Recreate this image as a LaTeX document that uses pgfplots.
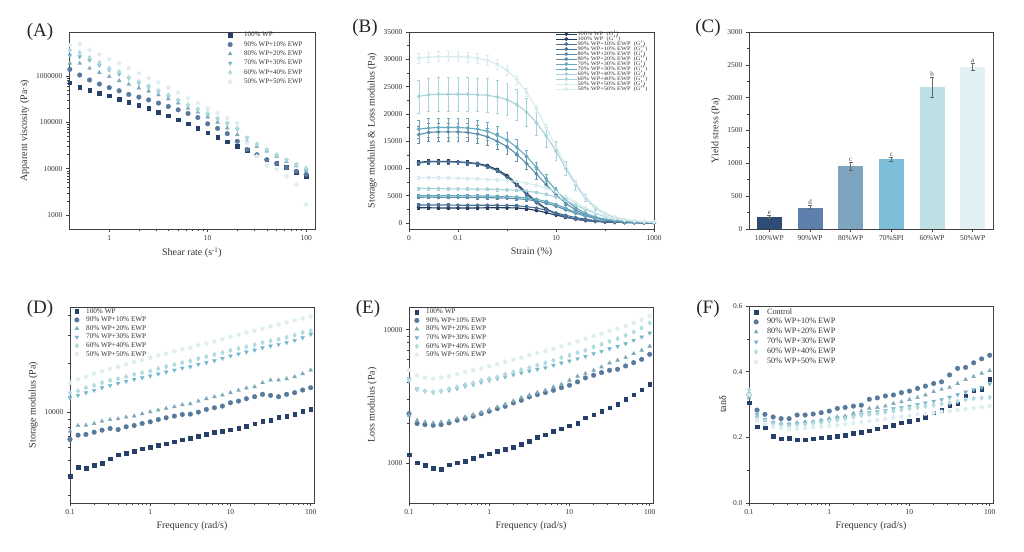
\documentclass[border=0pt]{standalone}
\usepackage{pgfplots}
\pgfplotsset{compat=1.18}
\usepackage{pgfplotstable}
\usepackage{fontspec}
\setmainfont{Liberation Serif}
\newfontfamily\legB[FakeStretch=1.2]{Liberation Serif}

\definecolor{c1}{HTML}{27406A}
\definecolor{c2}{HTML}{56799C}
\definecolor{c3}{HTML}{7FA8B8}
\definecolor{c4}{HTML}{74B6CB}
\definecolor{c5}{HTML}{B0DBE0}
\definecolor{c6}{HTML}{DDEEF1}
\definecolor{b1}{HTML}{2F4C77}
\definecolor{b2}{HTML}{5E80AD}
\definecolor{b3}{HTML}{7EA5BF}
\definecolor{b4}{HTML}{7DBFD8}
\definecolor{b5}{HTML}{BDE0E4}
\definecolor{b6}{HTML}{E1F1F3}
\definecolor{l1}{HTML}{243A5E}
\definecolor{l2}{HTML}{4B7095}
\definecolor{l3}{HTML}{5C8EAA}
\definecolor{l4}{HTML}{68A9C0}
\definecolor{l5}{HTML}{A8D2DA}
\definecolor{l6}{HTML}{D6EBEE}

\pgfplotsset{
  myax/.style={scale only axis, anchor=south west,
    axis line style={black!75,line width=0.6pt},
    tick style={black!75,line width=0.5pt},
    tick align=outside, xtick pos=lower, ytick pos=lower,
    major tick length=3pt, minor tick length=1.8pt,
    tick label style={font=\fontsize{7.5}{8}\selectfont, text=black!80},
    label style={font=\fontsize{10}{11}\selectfont, text=black!80},
    /pgf/number format/assume math mode=true,
    /pgf/number format/1000 sep={},
    legend cell align=left},
  s1/.style={only marks, mark=square*, mark size=1.8pt, color=c1},
  s2/.style={only marks, mark=*, mark size=2.3pt, color=c2},
  s3/.style={only marks, mark=triangle*, mark size=2.2pt, color=c3},
  s4/.style={only marks, mark=triangle*, mark size=2.2pt, mark options={rotate=180}, color=c4},
  s5/.style={only marks, mark=diamond*, mark size=2.4pt, color=c5},
  s6/.style={only marks, mark=pentagon*, mark size=2.1pt, color=c6},
  mimg/.style={legend image code/.code={\draw[mark repeat=2,mark phase=2,##1] plot coordinates {(0pt,0pt) (4pt,0pt) (8pt,0pt)}; \path[draw=none,fill=none] (0pt,0pt) -- (#1,0pt);}},
  mlegend/.style={
    legend style={draw=none, fill=none, anchor=north west, inner sep=0pt,
      font=\fontsize{#1}{#1}\selectfont, text=black!80,
      nodes={inner sep=0.5pt, text height=0.7*#1 pt, text depth=0.2*#1 pt}}},
  bl/.style={color=#1, line width=1.1pt, mark=*, mark size=1.3pt},
  cbar/.style={ybar, bar width=25pt, bar shift=0pt, draw=none, fill=#1,
    error bars/.cd, y dir=both, y explicit,
    error bar style={black!60, line width=0.4pt},
    error mark options={rotate=90, mark size=2pt, black!60}},
}

\pgfplotstableread{
x a b c d e g
0.398 7.2e5 1.39e6 1.87e6 2.8e6 3.6e6 4.6e6
0.501 5.7e5 1.05e6 1.87e6 2.6e6 3.2e6 4.8e6
0.631 5.0e5 8.2e5 1.46e6 2.2e6 2.5e6 3.6e6
0.794 4.24e5 6.7e5 1.18e6 1.72e6 1.93e6 2.9e6
1 3.72e5 5.6e5 9.7e5 1.35e6 1.46e6 2.3e6
1.26 3.2e5 4.8e5 7.9e5 1.1e6 1.24e6 1.87e6
1.58 2.76e5 4.0e5 6.6e5 8.9e5 9.3e5 1.46e6
2 2.34e5 3.5e5 5.5e5 7.0e5 7.5e5 1.14e6
2.51 1.99e5 3.05e5 4.7e5 5.7e5 6.1e5 8.9e5
3.16 1.66e5 2.6e5 3.9e5 4.6e5 4.85e5 7.3e5
3.98 1.38e5 2.2e5 3.2e5 3.6e5 3.9e5 5.6e5
5.01 1.13e5 1.86e5 2.6e5 2.9e5 3.05e5 4.4e5
6.31 9.3e4 1.55e5 2.0e5 2.3e5 2.4e5 3.3e5
7.94 7.5e4 1.27e5 1.66e5 1.86e5 1.93e5 2.6e5
10 6.0e4 9.3e4 1.3e5 1.45e5 1.58e5 2.0e5
12.6 4.8e4 7.4e4 1.0e5 1.17e5 1.23e5 1.58e5
15.8 3.8e4 5.7e4 7.5e4 9.3e4 9.6e4 1.23e5
20 3.1e4 3.9e4 5.4e4 7.1e4 7.5e4 9.6e4
25.1 2.5e4 2.6e4 3.9e4 4.6e4 4.6e4 3.6e4
31.6 2.0e4 2.0e4 3.0e4 3.3e4 3.4e4 1.85e4
39.8 1.56e4 1.56e4 2.4e4 2.5e4 2.6e4 1.18e4
50.1 1.33e4 1.3e4 1.85e4 1.94e4 2.0e4 9.8e3
63.1 1.07e4 1.05e4 1.43e4 1.5e4 1.56e4 6.8e3
79.4 8.5e3 8.8e3 1.15e4 1.2e4 1.24e4 4.5e3
100 6.8e3 7.5e3 9.3e3 9.5e3 1.03e4 1.7e3
}\tA

\pgfplotstableread{
s a1 a2 b1 b2 c1 c2 d1 d2 e1 e2 f1 f2
0.0158 11100 2800 11000 3300 16200 4700 17200 5000 23200 6300 30200 8300
0.0251 11300 2800 11200 3300 16600 4750 17400 5000 23500 6300 30400 8300
0.0398 11300 2750 11200 3300 16700 4700 17500 5000 23600 6300 30500 8300
0.0631 11300 2750 11200 3300 16700 4700 17500 5000 23600 6250 30500 8250
0.1 11200 2750 11150 3250 16700 4700 17500 5000 23600 6250 30500 8200
0.158 11100 2750 11000 3250 16600 4700 17400 5000 23600 6250 30400 8150
0.251 10900 2750 10800 3250 16300 4650 17200 4950 23500 6200 30200 8100
0.398 10500 2800 10300 3250 15800 4650 16800 4950 23400 6200 29800 8000
0.631 9800 2800 9600 3250 15000 4600 16100 4900 23100 6150 29100 7900
1 8700 2800 8400 3200 14000 4550 15200 4850 22600 6100 28000 7800
1.58 7200 2750 6900 3150 12600 4450 13900 4750 21700 6000 26300 7600
2.51 5500 2600 5200 3000 10900 4300 12200 4600 20300 5850 24000 7300
3.98 3900 2300 3700 2750 9000 4050 10200 4350 18400 5600 21000 6900
6.31 2600 1900 2500 2350 7000 3650 8100 3950 16000 5250 17500 6400
10 1700 1450 1650 1850 5200 3100 6000 3400 13200 4750 14000 5700
15.8 1100 1050 1100 1400 3600 2400 4200 2700 10000 4100 10500 4800
25.1 700 750 700 1000 2400 1800 2800 2000 7000 3300 7300 3800
39.8 450 500 450 700 1500 1250 1800 1400 4600 2500 4800 2800
63.1 300 350 300 450 950 850 1100 950 2800 1750 3000 1900
100 200 230 200 300 600 550 700 620 1700 1150 1800 1250
158 130 150 130 200 380 350 450 400 1000 750 1100 800
251 90 100 90 130 250 230 290 260 600 480 650 520
398 60 70 60 90 160 150 190 170 380 310 400 340
631 40 50 40 60 110 100 120 110 250 200 260 220
1000 30 35 30 40 70 70 80 80 160 140 170 150
}\tB

\pgfplotstableread{
f a b c d e g
0.1 3960 6720 7570 12230 13150 15180
0.126 4530 7150 8210 12650 13470 15930
0.158 4430 7220 8250 13150 14130 16540
0.2 4660 7460 8450 13600 14610 17270
0.251 4800 7680 8740 14130 15180 17860
0.316 5110 7870 8950 14610 15700 18560
0.398 5410 7750 9040 15040 16070 19110
0.501 5540 8060 9260 15480 16540 19760
0.631 5680 8210 9400 15930 17120 20430
0.794 5870 8450 9720 16320 17530 21010
1 6040 8660 10000 16720 17960 21760
1.26 6190 8950 10240 17210 18560 22400
1.58 6340 9170 10490 17700 19110 23050
2 6490 9400 10750 18200 19670 23830
2.51 6680 9620 11060 18730 20240 24510
3.16 6840 9670 11220 19100 20730 25090
3.98 7040 9950 11660 19760 21430 25970
5.01 7220 10340 12060 20240 22060 26700
6.31 7430 10590 12410 20830 22720 27470
7.94 7570 10850 12710 21540 23370 28300
10 7750 11380 13150 22270 24170 29280
12.6 7910 11660 13600 22920 24770 30280
15.8 8140 12060 14060 23580 25390 31180
20 8410 12410 14330 24260 26120 31930
25.1 8740 12840 15180 25090 27000 33020
31.6 8870 12650 15770 25700 27640 33990
39.8 9220 12410 15770 26320 28300 34990
50.1 9350 12840 16070 26960 29140 36010
63.1 9670 13150 16540 27870 30000 37060
79.4 10100 13660 17270 28950 31180 38150
100 10340 14130 18200 30420 31930 39260
}\tD

\pgfplotstableread{
f a b c d e g
0.1 1155 2344 2280 4290 4169 4955
0.126 1000 1972 2089 3610 3548 4550
0.158 962 1939 2030 3447 3467 4365
0.2 908 1916 1995 3373 3407 4290
0.251 898 1939 2030 3447 3467 4365
0.316 970 1995 2065 3508 3610 4467
0.398 1000 2089 2150 3610 3715 4621
0.501 1030 2150 2213 3758 3870 4808
0.631 1079 2239 2306 3870 3981 4955
0.794 1130 2344 2399 4027 4169 5105
1 1175 2443 2512 4169 4290 5309
1.26 1230 2553 2630 4290 4416 5508
1.58 1267 2660 2754 4416 4621 5733
2 1318 2818 2917 4594 4808 5957
2.51 1380 2951 3090 4732 5012 6166
3.16 1462 3126 3221 4898 5188 6427
3.98 1567 3258 3373 5044 5403 6683
5.01 1633 3373 3508 5188 5623 6918
6.31 1729 3508 3715 5403 5888 7200
7.94 1810 3673 3890 5623 6166 7499
10 1896 3828 4169 5821 6427 7852
12.6 1995 4055 4467 6061 6730 8175
15.8 2177 4345 4677 6310 6998 8560
20 2306 4550 4955 6607 7413 8964
25.1 2443 4764 5248 6879 7762 9333
31.6 2588 4955 5623 7200 8175 9772
39.8 2754 5044 5888 7499 8560 10174
50.1 3005 5340 6166 7852 9066 10654
63.1 3258 5655 6607 8318 9603 11220
79.4 3548 5988 6998 8810 10290 11885
100 3890 6531 7499 9441 11220 12589
}\tE

\pgfplotstableread{
f a b c d e g
0.1 0.305 0.33 0.32 0.33 0.345 0.33
0.126 0.232 0.283 0.266 0.27 0.26 0.25
0.158 0.229 0.27 0.252 0.255 0.25 0.24
0.2 0.204 0.262 0.244 0.245 0.24 0.232
0.251 0.196 0.257 0.242 0.24 0.237 0.228
0.316 0.198 0.257 0.24 0.24 0.235 0.225
0.398 0.193 0.268 0.244 0.242 0.238 0.226
0.501 0.193 0.268 0.247 0.245 0.24 0.228
0.631 0.196 0.271 0.247 0.247 0.243 0.23
0.794 0.199 0.275 0.252 0.25 0.245 0.232
1 0.201 0.28 0.257 0.254 0.25 0.235
1.26 0.203 0.288 0.262 0.258 0.253 0.237
1.58 0.207 0.291 0.264 0.262 0.257 0.24
2 0.212 0.295 0.273 0.265 0.262 0.243
2.51 0.215 0.298 0.28 0.27 0.267 0.247
3.16 0.22 0.316 0.288 0.275 0.27 0.25
3.98 0.226 0.32 0.291 0.278 0.273 0.253
5.01 0.232 0.326 0.295 0.282 0.277 0.256
6.31 0.237 0.329 0.303 0.287 0.28 0.26
7.94 0.244 0.336 0.308 0.29 0.284 0.263
10 0.25 0.341 0.315 0.295 0.288 0.266
12.6 0.254 0.349 0.321 0.3 0.291 0.27
15.8 0.262 0.356 0.329 0.305 0.295 0.272
20 0.275 0.364 0.339 0.31 0.298 0.275
25.1 0.283 0.369 0.346 0.315 0.302 0.278
31.6 0.296 0.39 0.352 0.322 0.305 0.28
39.8 0.303 0.41 0.364 0.33 0.31 0.283
50.1 0.327 0.413 0.376 0.338 0.315 0.286
63.1 0.342 0.427 0.385 0.345 0.318 0.289
79.4 0.347 0.439 0.395 0.352 0.32 0.292
100 0.377 0.45 0.403 0.363 0.322 0.295
}\tF

\begin{document}
\begin{tikzpicture}
\path (0pt,0pt) rectangle (1024pt,551pt);

% ---------------- (A)
\begin{axis}[myax, at={(69pt,322pt)}, width=246pt, height=197pt,
  xmode=log, ymode=log, xmin=0.39, xmax=123, ymin=500, ymax=8.9e6,
  xtick={1,10,100}, xticklabels={1,10,100},
  ytick={1000,10000,100000,1000000}, yticklabels={1000,10000,100000,1000000},
  xlabel={Shear rate (s\textsuperscript{-1})}, ylabel={Apparent viscosity (Pa·s)},
  mimg=17.5pt, mlegend=7, legend style={at={(0.638,1.003)}, row sep=2pt}]
\addplot[s1] table[x=x,y=a]{\tA};
\addplot[s2] table[x=x,y=b]{\tA};
\addplot[s3] table[x=x,y=c]{\tA};
\addplot[s4] table[x=x,y=d]{\tA};
\addplot[s5] table[x=x,y=e]{\tA};
\addplot[s6] table[x=x,y=g]{\tA};
\legend{100\% WP,90\% WP+10\% EWP,80\% WP+20\% EWP,70\% WP+30\% EWP,60\% WP+40\% EWP,50\% WP+50\% EWP}
\end{axis}

% ---------------- (B)
\begin{axis}[myax, at={(409pt,322pt)}, width=245pt, height=197pt,
  xmode=log, xmin=0.01, xmax=1000, ymin=-1100, ymax=35000,
  scaled y ticks=false,
  xtick={0.01,0.1,10,1000}, xticklabels={0,0.1,10,1000}, minor xtick={1,100},
  ytick={0,5000,...,35000}, minor y tick num=1,
  xlabel={Strain (\%)}, ylabel={Storage modulus \& Loss modulus (Pa)},
  legend image code/.code={\draw[mark repeat=2,mark phase=2,#1] plot coordinates {(0pt,0pt) (10.5pt,0pt) (21pt,0pt)};},
  legend style={draw=none, fill=none, anchor=north west, at={(0.596,1.003)}, inner sep=0pt,
    font=\legB\fontsize{5.3}{5.3}\selectfont, text=black!80, row sep=0pt,
    nodes={inner sep=0.2pt, text height=3.6pt, text depth=1.0pt}}]
\addplot[bl=l1, error bars/.cd, y dir=both, y fixed relative=0.03] table[x=s,y=a1]{\tB};
\addplot[bl=l1, error bars/.cd, y dir=both, y fixed relative=0.08] table[x=s,y=a2]{\tB};
\addplot[bl=l2, error bars/.cd, y dir=both, y fixed relative=0.03] table[x=s,y=b1]{\tB};
\addplot[bl=l2, error bars/.cd, y dir=both, y fixed relative=0.08] table[x=s,y=b2]{\tB};
\addplot[bl=l3, error bars/.cd, y dir=both, y fixed relative=0.1] table[x=s,y=c1]{\tB};
\addplot[bl=l3, error bars/.cd, y dir=both, y fixed relative=0.05] table[x=s,y=c2]{\tB};
\addplot[bl=l4, error bars/.cd, y dir=both, y fixed relative=0.1] table[x=s,y=d1]{\tB};
\addplot[bl=l4, error bars/.cd, y dir=both, y fixed relative=0.05] table[x=s,y=d2]{\tB};
\addplot[bl=l5, error bars/.cd, y dir=both, y fixed relative=0.13] table[x=s,y=e1]{\tB};
\addplot[bl=l5, error bars/.cd, y dir=both, y fixed relative=0.04] table[x=s,y=e2]{\tB};
\addplot[bl=l6, error bars/.cd, y dir=both, y fixed relative=0.03] table[x=s,y=f1]{\tB};
\addplot[bl=l6, error bars/.cd, y dir=both, y fixed relative=0.03] table[x=s,y=f2]{\tB};
\legend{100\% WP\hspace{0.6em}(G$'$),100\% WP\hspace{0.6em}(G$''$),90\% WP+10\% EWP\hspace{0.6em}(G$'$),90\% WP+10\% EWP\hspace{0.6em}(G$''$),80\% WP+20\% EWP\hspace{0.6em}(G$'$),80\% WP+20\% EWP\hspace{0.6em}(G$''$),70\% WP+30\% EWP\hspace{0.6em}(G$'$),70\% WP+30\% EWP\hspace{0.6em}(G$''$),60\% WP+40\% EWP\hspace{0.6em}(G$'$),60\% WP+40\% EWP\hspace{0.6em}(G$''$),50\% WP+50\% EWP\hspace{0.6em}(G$'$),50\% WP+50\% EWP\hspace{0.6em}(G$''$)}
\end{axis}

% ---------------- (C)
\begin{axis}[myax, at={(749pt,322pt)}, width=244pt, height=197pt,
  xmin=-0.5, xmax=5.5, ymin=0, ymax=3000,
  xtick={0,...,5}, xticklabels={100\%WP,90\%WP,80\%WP,70\%SPI,60\%WP,50\%WP},
  ytick={0,500,...,3000}, minor y tick num=1,
  ylabel={Yield stress (Pa)}]
\addplot[cbar=b1] coordinates {(0,190) +- (0,20)};
\addplot[cbar=b2] coordinates {(1,325) +- (0,30)};
\addplot[cbar=b3] coordinates {(2,955) +- (0,60)};
\addplot[cbar=b4] coordinates {(3,1060) +- (0,30)};
\addplot[cbar=b5] coordinates {(4,2160) +- (0,150)};
\addplot[cbar=b6] coordinates {(5,2470) +- (0,50)};
\addplot[draw=none, nodes near coords, point meta=explicit symbolic,
  nodes near coords style={font=\fontsize{7}{7}\selectfont, text=black!75, anchor=south, inner sep=0.8pt}]
  table[meta=lab]{
x y lab
0 210 e
1 355 d
2 1015 c
3 1090 c
4 2310 b
5 2520 a
};
\end{axis}

% ---------------- (D)
\begin{axis}[myax, at={(70pt,48pt)}, width=244pt, height=196pt,
  xmode=log, ymode=log, xmin=0.1, xmax=110, ymin=2700, ymax=45000,
  xtick={0.1,1,10,100}, xticklabels={0.1,1,10,100},
  ytick={10000}, yticklabels={10000},
  minor ytick={3000,4000,5000,6000,7000,8000,9000,20000,30000,40000},
  xlabel={Frequency (rad/s)}, ylabel={Storage modulus (Pa)},
  mimg=12.8pt, mlegend=7.2, legend style={at={(0.011,0.998)}, row sep=1.1pt}]
\addplot[s1] table[x=f,y=a]{\tD};
\addplot[s2] table[x=f,y=b]{\tD};
\addplot[s3] table[x=f,y=c]{\tD};
\addplot[s4] table[x=f,y=d]{\tD};
\addplot[s5] table[x=f,y=e]{\tD};
\addplot[s6] table[x=f,y=g]{\tD};
\legend{100\% WP,90\% WP+10\% EWP,80\% WP+20\% EWP,70\% WP+30\% EWP,60\% WP+40\% EWP,50\% WP+50\% EWP}
\end{axis}

% ---------------- (E)
\begin{axis}[myax, at={(409pt,48pt)}, width=244pt, height=196pt,
  xmode=log, ymode=log, xmin=0.1, xmax=110, ymin=500, ymax=14800,
  xtick={0.1,1,10,100}, xticklabels={0.1,1,10,100},
  ytick={1000,10000}, yticklabels={1000,10000},
  xlabel={Frequency (rad/s)}, ylabel={Loss modulus (Pa)},
  mimg=12.8pt, mlegend=7.2, legend style={at={(0.015,0.995)}, row sep=1.1pt}]
\addplot[s1] table[x=f,y=a]{\tE};
\addplot[s2] table[x=f,y=b]{\tE};
\addplot[s3] table[x=f,y=c]{\tE};
\addplot[s4] table[x=f,y=d]{\tE};
\addplot[s5] table[x=f,y=e]{\tE};
\addplot[s6] table[x=f,y=g]{\tE};
\legend{100\% WP,90\% WP+10\% EWP,80\% WP+20\% EWP,70\% WP+30\% EWP,60\% WP+40\% EWP,50\% WP+50\% EWP}
\end{axis}

% ---------------- (F)
\begin{axis}[myax, at={(749pt,48pt)}, width=244pt, height=197pt,
  xmode=log, xmin=0.1, xmax=110, ymin=0, ymax=0.6,
  xtick={0.1,1,10,100}, xticklabels={0.1,1,10,100},
  ytick={0,0.2,0.4,0.6}, yticklabels={0.0,0.2,0.4,0.6}, minor y tick num=1,
  xlabel={Frequency (rad/s)}, ylabel={tanδ},
  mimg=14.5pt, mlegend=8.2, legend style={at={(0.012,0.992)}, row sep=1.6pt}]
\addplot[s1] table[x=f,y=a]{\tF};
\addplot[s2] table[x=f,y=b]{\tF};
\addplot[s3] table[x=f,y=c]{\tF};
\addplot[s4] table[x=f,y=d]{\tF};
\addplot[s5] table[x=f,y=e]{\tF};
\addplot[s6] table[x=f,y=g]{\tF};
\legend{Control,90\% WP+10\% EWP,80\% WP+20\% EWP,70\% WP+30\% EWP,60\% WP+40\% EWP,50\% WP+50\% EWP}
\end{axis}

% panel labels
\begin{scope}[every node/.style={font=\fontsize{19}{20}\selectfont, text=black!85}]
\node at (40pt,519pt) {(A)};
\node at (365pt,523pt) {(B)};
\node at (708pt,523pt) {(C)};
\node at (40pt,242pt) {(D)};
\node at (368pt,242pt) {(E)};
\node at (708pt,242pt) {(F)};
\end{scope}
\end{tikzpicture}
\end{document}
